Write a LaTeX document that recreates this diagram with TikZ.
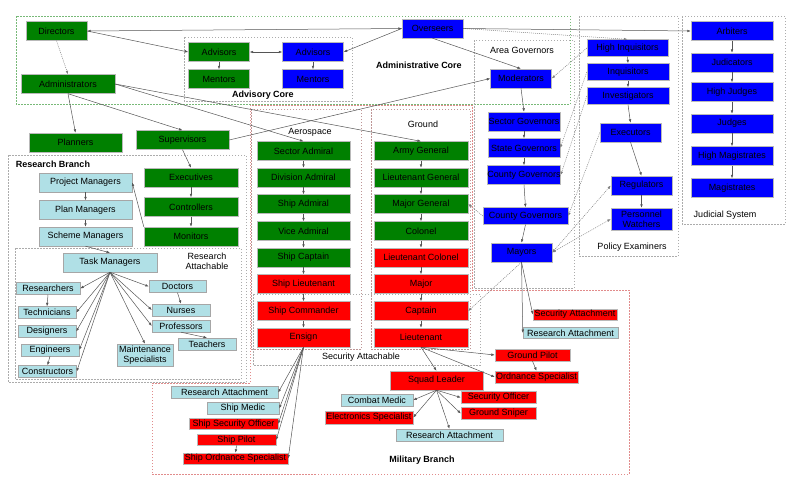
\documentclass[tikz,border=0pt]{standalone}
\usepackage{fontspec}
\setmainfont{Liberation Sans}
\usetikzlibrary{arrows.meta}

\definecolor{rankgreen}{RGB}{0,128,0}
\definecolor{rankblue}{RGB}{0,0,255}
\definecolor{rankred}{RGB}{255,0,0}
\definecolor{attach}{RGB}{176,224,230}
\definecolor{linkgray}{RGB}{85,85,85}
\definecolor{zonegreen}{RGB}{120,185,120}
\definecolor{zonered}{RGB}{225,140,140}
\definecolor{zonemix}{RGB}{190,150,150}

\begin{document}
\begin{tikzpicture}[x=1pt, y=-1pt,
  every node/.style={font=\fontsize{9}{10}\selectfont},
  >={Latex[length=3.5pt,width=2.6pt]},
  rank/.style={draw=gray!55, inner sep=0pt, text=black, minimum height=19pt, align=center},
  gr/.style={rank, fill=rankgreen, minimum width=#1},
  bl/.style={rank, fill=rankblue, minimum width=#1},
  rd/.style={rank, fill=rankred, minimum width=#1},
  lb/.style={rank, fill=attach, draw=gray!70, minimum width=#1},
  short/.style={minimum height=#1},
  link/.style={->, linkgray, line width=0.5pt},
  dlink/.style={link, gray, dash pattern=on 1pt off 1pt},
  zone/.style={gray!65, line width=0.6pt, dash pattern=on 1.5pt off 1.5pt},
  heading/.style={font=\fontsize{9}{10}\selectfont\bfseries}]
\useasboundingbox (0,0) rectangle (800,480);

% Group outlines
\draw[zone, draw=zonegreen] (16,16) rectangle (570,104);
\draw[zone] (184,37) rectangle (352,101);
\draw[zone] (474,40) rectangle (574,288);
\draw[zone] (579,16) rectangle (678,256);
\draw[zone] (682,16) rectangle (785,224);
\draw[zone] (8,155) rectangle (246,382);
\draw[zone] (15,248) rectangle (241,379);
\draw[zone, draw=zonemix] (251,109) rectangle (361,349);
\draw[zone, draw=zonemix] (371,109) rectangle (470,349);
\draw[zone] (253,294) rectangle (480,365);
\draw[zone, draw=zonered] (152,383) -- (250,383) -- (250,105) -- (472,105) -- (472,290) -- (629,290) -- (629,474) -- (152,474) -- cycle;

\node[heading] (admcore) at (419,65.5) {Administrative Core};
\node[heading] (advcore) at (263,95) {Advisory Core};
\node (areagov) at (522,50) {Area Governors};
\node (policy) at (632,247) {Policy Examiners};
\node (judicial) at (725,215) {Judicial System};
\node[heading] (research) at (53,164.5) {Research Branch};
\node[align=center] (resattach) at (207,261) {Research\\Attachable};
\node (aerospace) at (310,132) {Aerospace};
\node (ground) at (423,124) {Ground};
\node (secattach) at (361,357) {Security Attachable};
\node[heading] (military) at (422,460) {Military Branch};

% Administrative core
\node[gr=61pt] (dirs) at (56.5,31) {Directors};
\node[gr=94pt] (admins) at (68,84) {Administrators};
\node[gr=61pt] (gadv) at (219,52) {Advisors};
\node[gr=61pt] (gment) at (219,79) {Mentors};
\node[bl=61pt] (badv) at (313,52) {Advisors};
\node[bl=61pt] (bment) at (313,79) {Mentors};
\node[bl=61pt] (overs) at (432.5,28.5) {Overseers};

% Area governors
\node[bl=61pt] (moder) at (521,78.5) {Moderators};
\node[bl=72pt] (secgov) at (524,121.5) {Sector Governors};
\node[bl=72pt] (stgov) at (524,148) {State Governors};
\node[bl=72pt] (cgov) at (524,175) {County Governors};
\node[bl=85pt, short=17pt] (cgovb) at (525.5,216) {County Governors};
\node[bl=61pt] (mayors) at (521.5,252.5) {Mayors};

% Policy examiners
\node[bl=81pt, short=17pt] (hinq) at (627.5,48) {High Inquisitors};
\node[bl=82pt, short=17pt] (inq) at (628,72) {Inquisitors};
\node[bl=82pt, short=17pt] (invs) at (628,96) {Investigators};
\node[bl=61pt] (execu) at (630.5,132.5) {Executors};
\node[bl=61pt] (regs) at (641.5,185.5) {Regulators};
\node[bl=61pt, short=22pt] (pwatch) at (641.5,219) {Personnel\\Watchers};

% Judicial system
\node[bl=82pt] (arbs) at (732,31) {Arbiters};
\node[bl=82pt] (judic) at (732,62.5) {Judicators};
\node[bl=82pt] (hjud) at (732,92) {High Judges};
\node[bl=82pt] (judg) at (732,123.5) {Judges};
\node[bl=82pt] (hmag) at (732,156) {High Magistrates};
\node[bl=82pt] (mags) at (732,188) {Magistrates};

% Research branch
\node[gr=93pt] (plans) at (75.5,142.5) {Planners};
\node[gr=93pt] (supers) at (182.5,140) {Supervisors};
\node[gr=94pt] (execs) at (191,177.5) {Executives};
\node[gr=94pt] (ctrls) at (191,207) {Controllers};
\node[gr=94pt] (mons) at (191,236.5) {Monitors};
\node[lb=93pt] (projm) at (85.5,182.5) {Project Managers};
\node[lb=93pt] (planm) at (85.5,210) {Plan Managers};
\node[lb=93pt] (schm) at (85.5,236.5) {Scheme Managers};
\node[lb=94pt] (taskm) at (110,262.5) {Task Managers};
\node[lb=64pt, short=12pt] (resr) at (48,288.5) {Researchers};
\node[lb=58pt, short=12pt] (tech) at (47,312.5) {Technicians};
\node[lb=58pt, short=12pt] (desg) at (47,331.5) {Designers};
\node[lb=58pt, short=12pt] (engr) at (50,350) {Engineers};
\node[lb=58pt, short=12pt] (cons) at (47.5,371.5) {Constructors};
\node[lb=56pt, short=22pt] (maint) at (145,355) {Maintenance\\Specialists};
\node[lb=57pt, short=12pt] (doct) at (177.5,286.5) {Doctors};
\node[lb=58pt, short=12pt] (nurs) at (181,310) {Nurses};
\node[lb=58pt, short=12pt] (prof) at (181,326) {Professors};
\node[lb=58pt, short=12pt] (teach) at (207,344) {Teachers};

% Aerospace and ground ranks
\node[gr=93pt] (sadm) at (303.5,151) {Sector Admiral};
\node[gr=93pt] (dadm) at (303.5,177.5) {Division Admiral};
\node[gr=93pt] (shadm) at (303.5,204) {Ship Admiral};
\node[gr=93pt] (vadm) at (303.5,231) {Vice Admiral};
\node[gr=93pt] (scapt) at (303.5,257.5) {Ship Captain};
\node[rd=93pt] (slieut) at (303.5,284) {Ship Lieutenant};
\node[rd=93pt] (scomm) at (303.5,311) {Ship Commander};
\node[rd=93pt] (ensign) at (303.5,337.5) {Ensign};
\node[gr=94pt] (armyg) at (421,151) {Army General};
\node[gr=94pt] (ltgen) at (421,177.5) {Lieutenant General};
\node[gr=94pt] (majg) at (421,204) {Major General};
\node[gr=94pt] (colo) at (421,231) {Colonel};
\node[rd=94pt] (ltcol) at (421,257.5) {Lieutenant Colonel};
\node[rd=94pt] (major) at (421,284) {Major};
\node[rd=94pt] (capt) at (421,311) {Captain};
\node[rd=94pt] (lieut) at (421,337.5) {Lieutenant};

% Military attachments
\node[rd=84pt, short=11pt] (secatt) at (575,314.5) {Security Attachment};
\node[lb=95pt, short=11pt] (resatt) at (570.5,333) {Research Attachment};
\node[rd=75pt, short=12pt] (gpilot) at (532.5,355) {Ground Pilot};
\node[rd=83pt, short=12pt] (ordsp) at (536.5,377) {Ordnance Specialist};
\node[rd=93pt] (squad) at (436.5,380.5) {Squad Leader};
\node[lb=72pt, short=12pt] (cmedic) at (377,400) {Combat Medic};
\node[rd=88pt, short=13pt] (elecsp) at (369,417.5) {Electronics Specialist};
\node[rd=75pt, short=12pt] (secoff) at (498.5,397.5) {Security Officer};
\node[rd=75pt, short=12pt] (gsnip) at (498.5,413.5) {Ground Sniper};
\node[lb=107pt, short=12pt] (sqres) at (449.5,435) {Research Attachment};
\node[lb=107pt, short=12pt] (shres) at (224.5,392.5) {Research Attachment};
\node[lb=72pt, short=12pt] (smedic) at (243,408.5) {Ship Medic};
\node[rd=89pt, short=11pt] (ssecof) at (233.5,424) {Ship Security Officer};
\node[rd=79pt, short=11pt] (spilot) at (236.5,440) {Ship Pilot};
\node[rd=105pt, short=11pt] (sords) at (235.5,458.5) {Ship Ordnance Specialist};

% Connectors
\draw[link, <->] (dirs.east) -- (overs.west);
\draw[link] (dirs.east) -- (gadv.west);
\draw[link, <->] (gadv.east) -- (badv.west);
\draw[link] (overs.west) -- (badv.east);
\draw[link] (gadv) -- (gment);
\draw[link] (badv) -- (bment);
\draw[dlink] (dirs.south) -- (admins.north);
\draw[link] (admins.south) -- (plans.north);
\draw[link] (admins.south) -- (supers.north);
\draw[link] (admins.east) -- (sadm.north);
\draw[link] (admins.east) -- (armyg.north);
\draw[link] (supers.east) -- (moder.west);
\draw[link] (overs.south) -- (moder.north);
\draw[dlink] (overs.east) -- (hinq.north);
\draw[link] (overs.east) -- (arbs.west);
\foreach \a/\b in {supers/execs, execs/ctrls, ctrls/mons, projm/planm, planm/schm, schm/taskm,
  moder/secgov, secgov/stgov, stgov/cgov, cgov/cgovb, cgovb/mayors,
  hinq/inq, inq/invs, invs/execu, execu/regs, regs/pwatch,
  arbs/judic, judic/hjud, hjud/judg, judg/hmag, hmag/mags,
  sadm/dadm, dadm/shadm, shadm/vadm, vadm/scapt, scapt/slieut, slieut/scomm, scomm/ensign,
  armyg/ltgen, ltgen/majg, majg/colo, colo/ltcol, ltcol/major, major/capt, capt/lieut,
  resr/tech, engr/cons, doct/nurs, prof/teach, spilot/sords, gpilot/ordsp}
  \draw[link] (\a.south) -- (\b.north);
\draw[link] (mons.north west) -- (projm.east);
\foreach \b in {resr, tech, desg, engr, cons}
  \draw[link] (taskm.south) -- (\b.east);
\foreach \b in {doct, nurs, prof}
  \draw[link] (taskm.south) -- (\b.west);
\draw[link] (taskm.south) -- (maint.north);
% Oversight lines
\draw[dlink] (hinq.west) -- (moder.east);
\draw[dlink] (inq.west) -- (stgov.east);
\draw[dlink] (invs.west) -- (cgov.east);
\draw[dlink] (execu.west) -- (cgovb.east);
\draw[dlink, <->] (regs.west) -- (mayors.east);
\draw[dlink, <->] (pwatch.west) -- (mayors.east);
\draw[dlink] (cgovb.west) -- (majg.east);
\draw[dlink] (mayors.south) -- (capt.east);
\draw[link] (mayors.south) -- (secatt.west);
\draw[link] (mayors.south) -- (resatt.west);
% Unit attachments
\foreach \b in {shres, smedic, ssecof, spilot, sords}
  \draw[link] (ensign.south) -- (\b.east);
\draw[link] (lieut.south) -- (gpilot.west);
\draw[link] (lieut.south) -- (ordsp.west);
\draw[link] (lieut.south) -- (squad.north);
\foreach \b in {cmedic, elecsp}
  \draw[link] (squad.south) -- (\b.east);
\foreach \b in {secoff, gsnip}
  \draw[link] (squad.south) -- (\b.west);
\draw[link] (squad.south) -- (sqres.north);
\end{tikzpicture}
\end{document}
